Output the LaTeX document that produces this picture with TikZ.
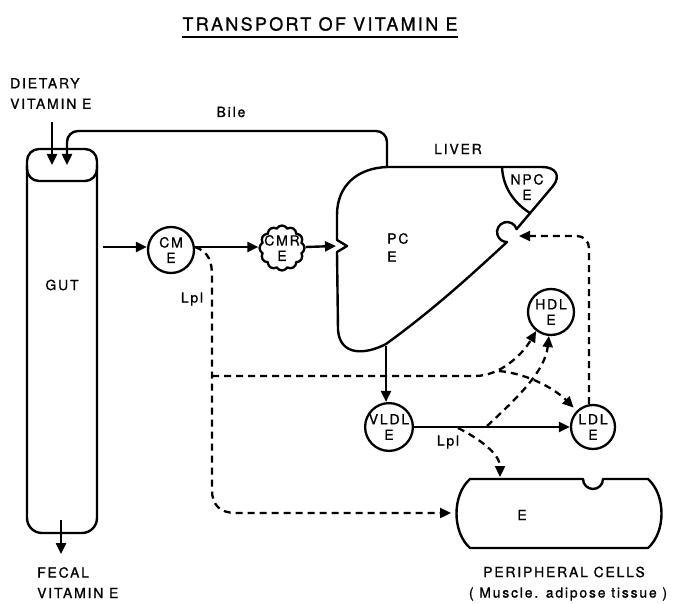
\documentclass[tikz,border=0pt]{standalone}
\usepackage{fontspec}
\newfontfamily\labfont[LetterSpace=13,FakeBold=1]{TeX Gyre Heros}
\newfontfamily\titfont[LetterSpace=13,FakeBold=1]{TeX Gyre Heros}
\usetikzlibrary{arrows.meta,shapes.symbols}
\begin{document}
\begin{tikzpicture}[x=1bp,y=-1bp,
  lab/.style={font=\labfont\fontsize{14}{15.5}\selectfont, inner sep=0pt, align=center},
  labl/.style={font=\labfont\fontsize{14}{20.5}\selectfont, inner sep=0pt, align=left},
  ring/.style={circle, draw, line width=2.3bp, minimum size=46bp, inner sep=0pt, align=center,
    font=\labfont\fontsize{14}{15.5}\selectfont},
  sline/.style={line width=2.4bp},
  dline/.style={line width=2.3bp, dash pattern=on 7bp off 5bp},
  arr/.style={-{Triangle[length=11bp,width=10bp]}}
]
\useasboundingbox (0,0) rectangle (682,604);

% title
\node[font=\titfont\fontsize{18}{20}\selectfont, inner sep=0pt] (title) at (320,24) {TRANSPORT OF VITAMIN E};
\draw[line width=2bp] ([yshift=-6bp]title.south west) -- ([yshift=-6bp]title.south east);

% labels
\node[labl, anchor=north west] (diet) at (10,78) {DIETARY\\VITAMIN E};
\node[labl, anchor=north west] (fecal) at (37,567) {FECAL\\VITAMIN E};
\node[lab] (bile) at (231,112) {Bile};
\node[lab] (liverlab) at (458,149) {LIVER};
\node[labl, anchor=north west, font=\labfont\fontsize{14}{18}\selectfont] (pc) at (387,233) {PC\\E};
\node[lab] (npc) at (527,187) {NPC\\E};
\node[lab] (gutlab) at (62,285) {GUT};
\node[lab] (lpl1) at (192,299) {Lpl};
\node[lab] (lpl2) at (448,442) {Lpl};
\node[lab] (periph) at (564,572) {PERIPHERAL CELLS};
\node[lab] (muscle) at (568,594) {( Muscle. adipose tissue )};

% gut
\draw[sline, rounded corners=12bp] (27,149) rectangle (97,181);
\draw[sline, rounded corners=15bp] (27,165) -- (27,533) -- (97,533) -- (97,165);

% coordinates
\coordinate (dietTop) at (52,122);
\coordinate (gutA) at (52,165);
\coordinate (gutB) at (67,165);
\coordinate (gutR) at (103,247);
\coordinate (gutBot) at (61,520);
\coordinate (fecalEnd) at (61,554);
\coordinate (liverTop) at (387,167);
\coordinate (liverBot) at (386,346);
\coordinate (notch) at (336,246);
\coordinate (liverPit) at (519,236);
\coordinate (jn) at (212,376);
\coordinate (xo) at (499,371);
\coordinate (v1) at (487,426);
\coordinate (v2) at (458,428);
\coordinate (cellTop) at (500,477);
\coordinate (cellW) at (451,513);

% liver
\draw[sline, line join=round] (387,167) -- (542,167) .. controls (556,167) and (561,176) .. (553,186)
  -- (516.6,229.1) arc[start angle=-17, end angle=-270, radius=10]
  .. controls (485,262) and (440,305) .. (386,344)
  .. controls (365,355) and (340,356) .. (338,330)
  -- (337,252) -- (347,246) -- (337,240) -- (337,215)
  .. controls (337,185) and (358,168) .. (387,167) -- cycle;
\draw[sline] (502,167) .. controls (503,190) and (517,205) .. (530,213);

% peripheral cell
\draw[sline, line join=round] (470,479) -- (583,479) arc[start angle=180, end angle=0, radius=10]
  -- (648,479) .. controls (666,495) and (666,532) .. (648,548) -- (470,548)
  .. controls (452,532) and (452,495) .. (470,479) -- cycle;
\node[lab] (cellE) at (522,515) {E};

% nodes
\node[ring] (cm) at (171,250) {CM\\E};
\node[cloud, draw, line width=2.3bp, cloud puffs=12, cloud puff arc=120, aspect=1,
  minimum width=45bp, minimum height=45bp, inner sep=0pt] (cmr) at (282,248) {};
\node[lab] (cmrlab) at (cmr) {CMR\\E};
\node[ring] (vldl) at (389,427) {VLDL\\E};
\node[ring, minimum size=44bp] (ldl) at (593,427) {LDL\\E};
\node[ring] (hdl) at (551,312) {HDL\\E};

% solid connectors
\draw[sline, arr] (dietTop) -- (gutA);
\draw[sline, arr, rounded corners=11bp] (liverTop) -- (387,131) -- (67,131) -- (gutB);
\draw[sline, arr] (gutBot) -- (fecalEnd);
\draw[sline, arr] (gutR) -- (gutR -| cm.west);
\draw[sline, arr] (cm.east |- gutR) -- (gutR -| cmr.west);
\draw[sline, arr] (gutR -| cmr.east) -- (notch);
\draw[sline, arr] (liverBot) -- (liverBot |- vldl.north);
\draw[sline, arr] (vldl.east) -- (ldl.west);

% dashed connectors
\draw[dline, arr] (cm.east |- gutR) .. controls (209,252) and (212,262) .. (212,276) -- (212,490)
  .. controls (212,505) and (220,513) .. (236,513) -- (cellW);
\draw[dline, arr] (jn) -- (475,376) .. controls (500,376) and (522,355) .. (hdl.232);
\draw[dline, arr] (xo) .. controls (530,374) and (556,390) .. ([shift={(-3bp,3bp)}]ldl.135);
\draw[dline, arr] (v1) .. controls (515,400) and (545,372) .. (hdl.265);
\draw[dline, arr] (v2) .. controls (482,440) and (500,455) .. (cellTop);
\draw[dline, arr, rounded corners=12bp] (ldl.100) |- (liverPit);
\end{tikzpicture}
\end{document}
